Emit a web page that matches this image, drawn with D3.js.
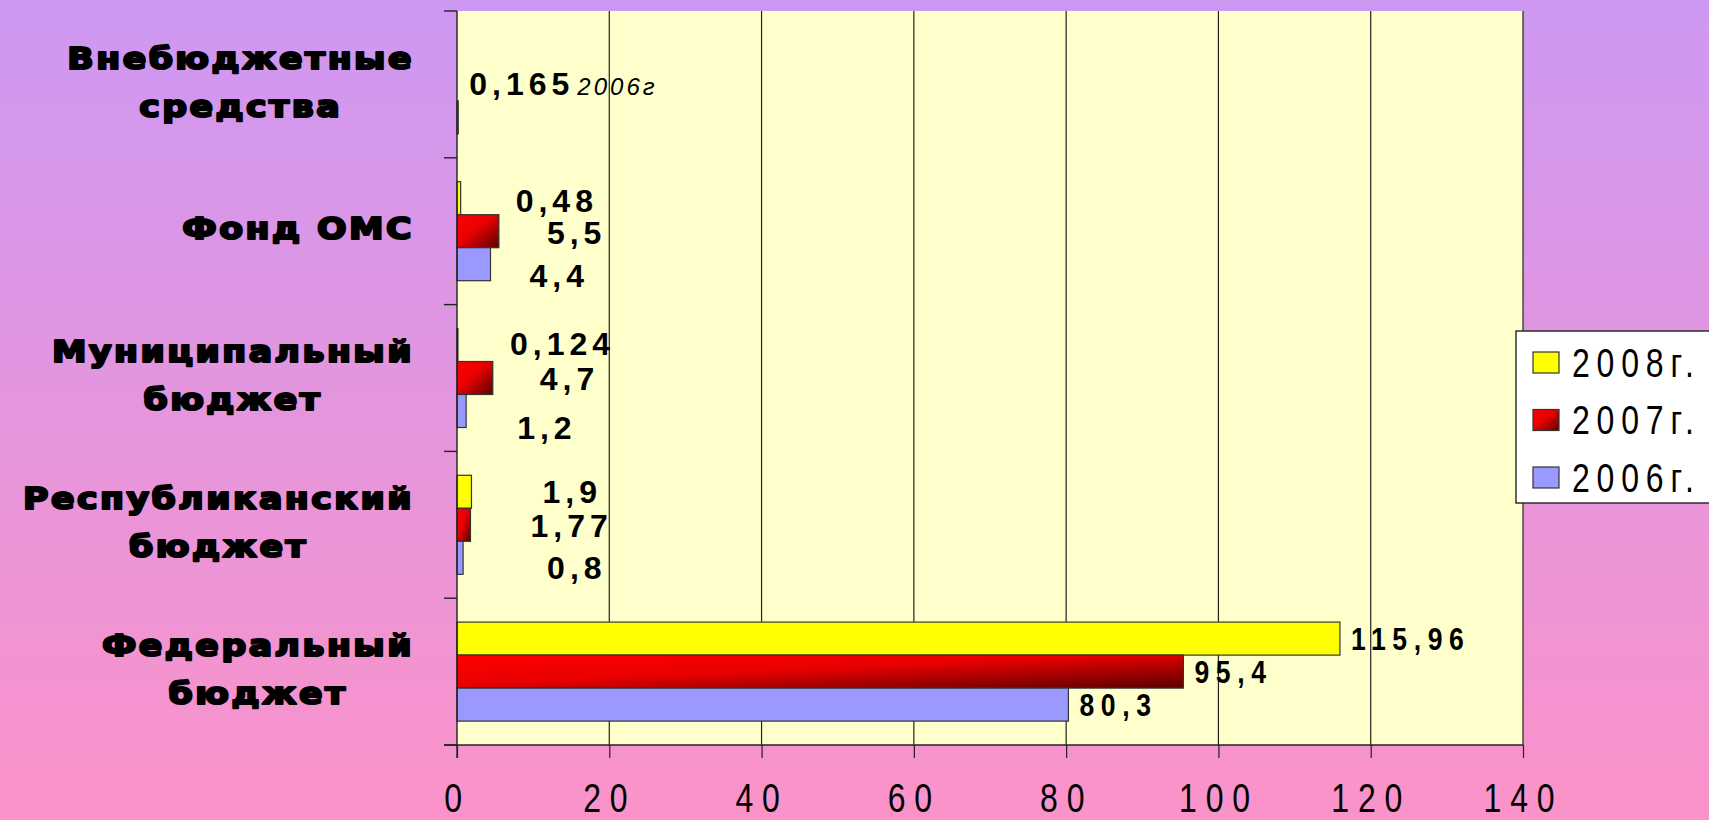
<!DOCTYPE html>
<html>
<head>
<meta charset="utf-8">
<script src="https://cdn.jsdelivr.net/npm/d3@7"></script>
<style>
  html, body { margin: 0; padding: 0; overflow: hidden; }
  svg { display: block; }
</style>
</head>
<body>
<div id="chart"></div>
<script>
// data
const categories = ['Внебюджетные\nсредства', 'Фонд ОМС', 'Муниципальный\nбюджет', 'Республиканский\nбюджет', 'Федеральный\nбюджет'];
const seriesNames = ['2008г.', '2007г.', '2006г.'];
const values2008 = [null, 0.48, 0.124, 1.9, 115.96];
const values2007 = [null, 5.5, 4.7, 1.77, 95.4];
const values2006 = [0.165, 4.4, 1.2, 0.8, 80.3];
const xTicks = [0, 20, 40, 60, 80, 100, 120, 140];
const labelNotes = ['', '', '2006г']; // italic note after the label, per series (first category only)

// the labels in the original were dragged by hand: [dx, dy] per series, per category
const labelNudge = [
  [null, [44, 2], [41, -2], [60, 0], [0, 0]],
  [null, [37, 1], [36, 0], [49, 1], [0, 0]],
  [[0, -34], [28, 11], [40, 16], [73, 10], [0, 0]]
];

const seriesValues = [values2008, values2007, values2006];
const fills = ['#ffff00', 'url(#redGrad)', '#9999ff'];

const W = 1709, H = 820;
const plotLeft = 457, plotRight = 1523, plotTop = 11, plotBottom = 745;

// narrow lettering is faked by squeezing Liberation Sans
const sansFont = '"Liberation Sans", Arial, sans-serif';
const narrow = 0.8;

const svg = d3.select('#chart').append('svg')
  .attr('width', W)
  .attr('height', H);

const defs = svg.append('defs');

const bgGrad = defs.append('linearGradient')
  .attr('id', 'bgGrad')
  .attr('x1', 0).attr('y1', 0).attr('x2', 0).attr('y2', 1);
bgGrad.append('stop').attr('offset', 0).attr('stop-color', '#cd98f2');
bgGrad.append('stop').attr('offset', 1).attr('stop-color', '#fb93c9');

const redGrad = defs.append('linearGradient')
  .attr('id', 'redGrad')
  .attr('x1', 0).attr('y1', 0).attr('x2', 1).attr('y2', 1);
redGrad.append('stop').attr('offset', 0).attr('stop-color', '#ff0000');
redGrad.append('stop').attr('offset', 0.45).attr('stop-color', '#e80000');
redGrad.append('stop').attr('offset', 1).attr('stop-color', '#5a0000');

svg.append('rect')
  .attr('width', W).attr('height', H)
  .attr('fill', 'url(#bgGrad)');

const x = d3.scaleLinear().domain([0, 140]).range([plotLeft, plotRight]);
const y = d3.scaleBand().domain(d3.range(categories.length)).range([plotTop, plotBottom]);
const yInner = d3.scaleBand().domain(d3.range(seriesNames.length))
  .range([0, y.bandwidth()])
  .paddingOuter(0.724);

// plot area
svg.append('rect')
  .attr('x', plotLeft).attr('y', plotTop)
  .attr('width', plotRight - plotLeft).attr('height', plotBottom - plotTop)
  .attr('fill', '#ffffcc');

// vertical grid
svg.append('g')
  .selectAll('line')
  .data(xTicks.slice(1))
  .enter().append('line')
  .attr('x1', d => x(d)).attr('x2', d => x(d))
  .attr('y1', plotTop).attr('y2', plotBottom)
  .attr('stroke', '#222')
  .attr('stroke-width', 1.2);

// bars
seriesValues.forEach(function(vals, s) {
  svg.append('g')
    .selectAll('rect')
    .data(vals.map((v, i) => ({ v, i })).filter(d => d.v !== null))
    .enter().append('rect')
    .attr('x', x(0))
    .attr('y', d => y(d.i) + yInner(s))
    .attr('width', d => x(d.v) - x(0))
    .attr('height', yInner.bandwidth())
    .attr('fill', fills[s])
    .attr('stroke', '#333')
    .attr('stroke-width', 1.2);
});

// x axis
const xAxis = svg.append('g')
  .attr('transform', `translate(0,${plotBottom})`)
  .call(d3.axisBottom(x).tickValues(xTicks).tickSize(13).tickPadding(26).tickFormat(d => d));
xAxis.select('.domain').remove();
xAxis.selectAll('line').attr('stroke', '#222').attr('stroke-width', 1.2);
xAxis.selectAll('text')
  .attr('fill', '#000')
  .attr('transform', `scale(${narrow},1)`)
  .style('font-family', sansFont)
  .style('font-size', '40px')
  .style('letter-spacing', '11px');

// axis lines
svg.append('line')
  .attr('x1', plotLeft - 13).attr('x2', plotRight)
  .attr('y1', plotBottom).attr('y2', plotBottom)
  .attr('stroke', '#222').attr('stroke-width', 1.4);
svg.append('line')
  .attr('x1', plotLeft).attr('x2', plotLeft)
  .attr('y1', plotTop).attr('y2', plotBottom + 13)
  .attr('stroke', '#222').attr('stroke-width', 1.4);

// category boundary ticks
svg.append('g')
  .selectAll('line')
  .data(d3.range(categories.length + 1))
  .enter().append('line')
  .attr('x1', plotLeft - 13).attr('x2', plotLeft)
  .attr('y1', i => i < categories.length ? y(i) : plotBottom)
  .attr('y2', i => i < categories.length ? y(i) : plotBottom)
  .attr('stroke', '#222').attr('stroke-width', 1.4);

// category labels: lines centred on each other, block right-aligned
const catScale = 1.12;
categories.forEach(function(cat, i) {
  const lines = cat.split('\n');
  const lineGap = 48;
  const cy = y(i) + y.bandwidth() / 2 - 3;
  const texts = lines.map(function(line, k) {
    return svg.append('text')
      .attr('dy', '0.36em')
      .attr('text-anchor', 'middle')
      .attr('data-y', cy + (k - (lines.length - 1) / 2) * lineGap)
      .style('font-family', '"DejaVu Sans", sans-serif')
      .style('font-weight', 'bold')
      .style('font-size', '31px')
      .style('letter-spacing', '2.2px')
      .attr('fill', '#000')
      .attr('stroke', '#000')
      .attr('stroke-width', 2.2)
      .attr('stroke-linejoin', 'round')
      .text(line);
  });
  const maxW = d3.max(texts, t => t.node().getComputedTextLength()) * catScale;
  texts.forEach(t => t.attr('transform', `translate(${414 - maxW / 2},${t.attr('data-y')}) scale(${catScale},1)`));
});

// value labels
const fmt = v => String(v).replace('.', ',');
seriesValues.forEach(function(vals, s) {
  vals.forEach(function(v, i) {
    if (v === null) return;
    const nudge = labelNudge[s][i];
    const big = i === categories.length - 1;
    const t = svg.append('text')
      .attr('transform', `translate(${x(v) + 11 + nudge[0]},${y(i) + yInner(s) + yInner.bandwidth() / 2 + nudge[1]}) scale(${big ? 0.83 : 1},1)`)
      .attr('dy', '0.36em')
      .attr('fill', '#000')
      .style('font-family', sansFont)
      .style('font-weight', 'bold')
      .style('font-size', '32px')
      .style('letter-spacing', big ? '8px' : '5px');
    t.append('tspan').text(fmt(v));
    if (i === 0 && labelNotes[s]) {
      t.append('tspan')
        .attr('dx', 3)
        .style('font-weight', 'normal')
        .style('font-style', 'italic')
        .style('font-size', '24px')
        .style('letter-spacing', '3px')
        .text(labelNotes[s]);
    }
  });
});

// legend
const legend = svg.append('g').attr('transform', 'translate(1516,331)');
legend.append('rect')
  .attr('width', 230).attr('height', 172)
  .attr('fill', '#ffffff')
  .attr('stroke', '#222').attr('stroke-width', 1.4);
seriesNames.forEach(function(name, s) {
  const cy = 31.5 + s * 57.5;
  legend.append('rect')
    .attr('x', 17).attr('y', cy - 10.5)
    .attr('width', 26).attr('height', 21)
    .attr('fill', fills[s])
    .attr('stroke', '#333').attr('stroke-width', 1.2);
  legend.append('text')
    .attr('transform', `translate(56,${cy}) scale(${narrow},1)`)
    .attr('dy', '0.36em')
    .attr('fill', '#000')
    .style('font-family', sansFont)
    .style('font-size', '40px')
    .style('letter-spacing', '8.5px')
    .text(name);
});
</script>
</body>
</html>
